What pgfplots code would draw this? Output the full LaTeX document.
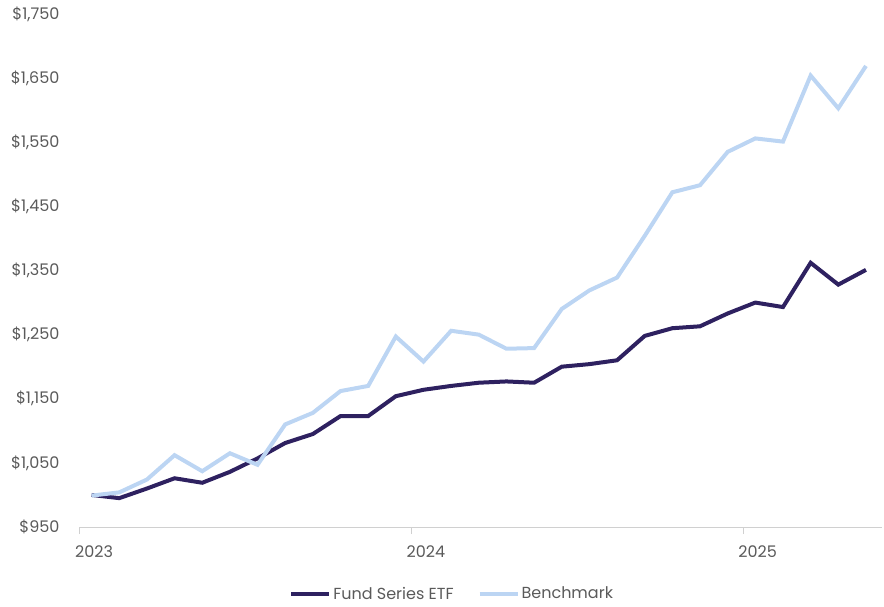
\documentclass[border=0pt]{standalone}
\usepackage{fontspec}
\setmainfont{Poppins}
\usepackage{pgfplots}
\pgfplotsset{compat=1.18}
\definecolor{fundc}{HTML}{2E2160}
\definecolor{benchc}{HTML}{BCD5F3}
\definecolor{txt}{HTML}{5A5A5A}
\definecolor{axc}{HTML}{D0D0D0}
\begin{document}
\begin{tikzpicture}
\fontsize{16pt}{18pt}\selectfont
\begin{axis}[
  scale only axis,
  width=802pt, height=513pt,
  xmin=0, xmax=29, ymin=950, ymax=1750,
  axis lines*=left,
  y axis line style={draw=none},
  x axis line style={draw=axc, line width=1pt},
  ytick={950,1050,1150,1250,1350,1450,1550,1650,1750},
  yticklabels={{\$950},{\$1,050},{\$1,150},{\$1,250},{\$1,350},{\$1,450},{\$1,550},{\$1,650},{\$1,750}},
  xtick={0,12,24},
  xticklabels={2023,2024,2025},
  ytick style={draw=none},
  xtick style={draw=axc, line width=1pt},
  tick align=outside,
  major tick length=7pt,
  /pgf/number format/assume math mode=true,
  tick label style={text=txt, font=\fontsize{16pt}{18pt}\selectfont},
  yticklabel style={xshift=-8pt},
  xticklabel style={xshift=14pt, yshift=-6pt},
  clip=false,
  legend columns=2,
  legend style={at={(axis description cs:0.464,-0.131)}, anchor=center, draw=none, fill=none,
    font=\fontsize{16pt}{18pt}\selectfont, text=txt,
    /tikz/every even column/.append style={column sep=22pt},
    inner sep=0pt},
  legend image code/.code={\draw[#1, line width=4pt] (0pt,0pt) -- (38pt,0pt);},
  legend cell align=left,
]
\addplot[fundc, line width=4pt, line join=miter] coordinates {
(0.42,1000)(1.42,995)(2.42,1010)(3.42,1026)(4.42,1019)(5.42,1036)(6.42,1057)(7.42,1081)
(8.42,1095)(9.42,1123)(10.42,1123)(11.42,1154)(12.42,1164)(13.42,1170)(14.42,1175)
(15.42,1177)(16.42,1175)(17.42,1200)(18.42,1204)(19.42,1210)(20.42,1248)(21.42,1260)
(22.42,1263)(23.42,1283)(24.42,1300)(25.42,1293)(26.42,1362)(27.42,1328)(28.42,1351)};
\addlegendentry{Fund Series ETF}
\addplot[benchc, line width=4pt, line join=miter] coordinates {
(0.42,999)(1.42,1004)(2.42,1024)(3.42,1062)(4.42,1037)(5.42,1065)(6.42,1047)(7.42,1110)
(8.42,1128)(9.42,1162)(10.42,1170)(11.42,1247)(12.42,1208)(13.42,1256)(14.42,1250)
(15.42,1228)(16.42,1229)(17.42,1290)(18.42,1319)(19.42,1339)(20.42,1404)(21.42,1472)
(22.42,1483)(23.42,1535)(24.42,1556)(25.42,1551)(26.42,1654)(27.42,1603)(28.42,1669)};
\addlegendentry{Benchmark}
\end{axis}
\useasboundingbox (-80pt,-79pt) rectangle (804pt,527pt);
\end{tikzpicture}
\end{document}
